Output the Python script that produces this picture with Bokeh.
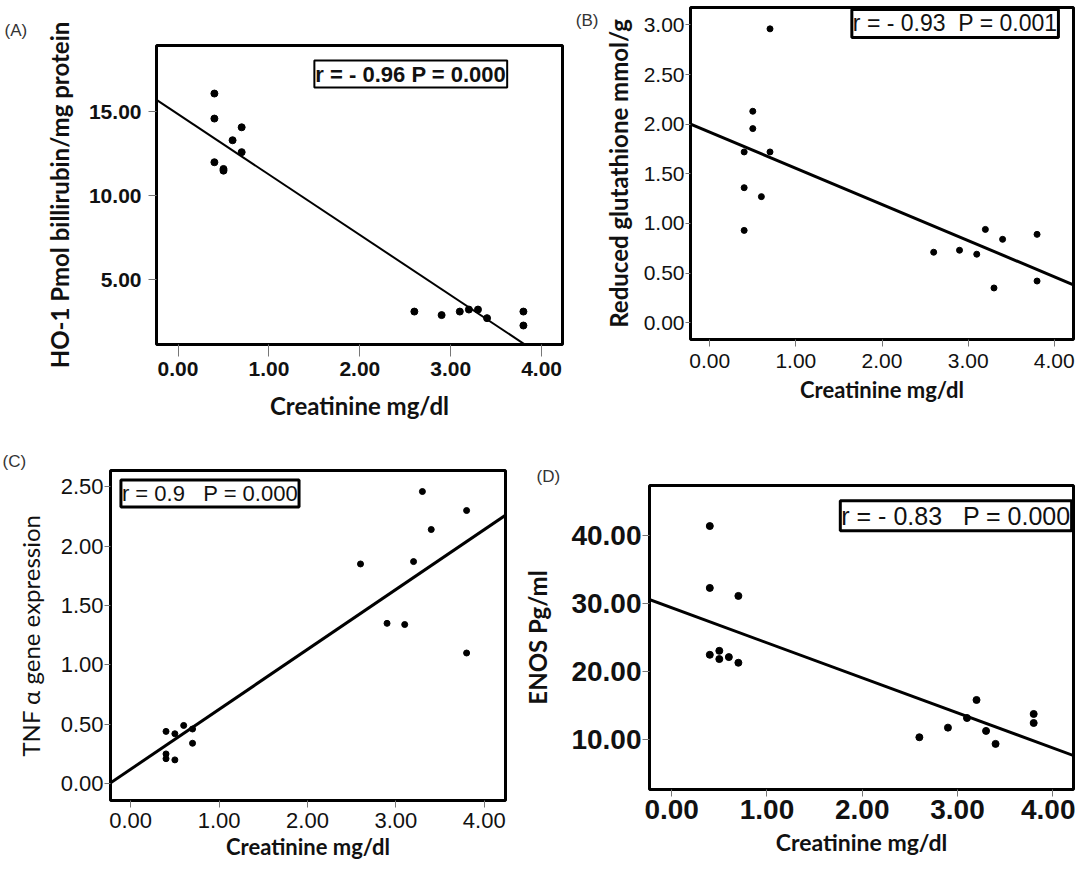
from bokeh.plotting import figure
from bokeh.models import Range1d, FixedTicker, NumeralTickFormatter, Label, Title, LinearAxis
from bokeh.layouts import column, row
from bokeh.embed import file_html
from bokeh.resources import INLINE

# ---------------- data ----------------
x_ticks = [0, 1, 2, 3, 4]
NB = "\u00a0"

# (A) HO-1
a_x = [0.4, 0.4, 0.4, 0.5, 0.5, 0.6, 0.7, 0.7, 2.6, 2.9, 3.1, 3.2, 3.3, 3.4, 3.8, 3.8]
a_y = [16.09, 14.6, 12.0, 11.6, 11.5, 13.31, 14.08, 12.6, 3.11, 2.9, 3.11, 3.23, 3.23, 2.72, 3.11, 2.28]
a_fit = [14.86, -3.593]          # intercept, slope
a_yticks = [5, 10, 15]
a_stat = "r = - 0.96 P = 0.000"

# (B) Reduced glutathione
b_x = [0.7, 0.5, 0.5, 0.4, 0.7, 0.4, 0.6, 0.4, 2.6, 2.9, 3.1, 3.2, 3.4, 3.3, 3.8, 3.8]
b_y = [2.96, 2.13, 1.955, 1.72, 1.72, 1.36, 1.27, 0.93, 0.71, 0.73, 0.69, 0.94, 0.84, 0.35, 0.89, 0.42]
b_fit = [1.919, -0.364]
b_yticks = [0, 0.5, 1.0, 1.5, 2.0, 2.5, 3.0]
b_stat = "r = - 0.93" + NB * 2 + "P = 0.001"

# (C) TNF alpha
c_x = [3.3, 3.8, 3.4, 2.6, 3.2, 2.9, 3.1, 3.8, 0.4, 0.6, 0.5, 0.7, 0.7, 0.4, 0.4, 0.5]
c_y = [2.46, 2.30, 2.14, 1.85, 1.87, 1.35, 1.34, 1.10, 0.44, 0.49, 0.42, 0.46, 0.34, 0.25, 0.21, 0.20]
c_fit = [0.121, 0.5045]
c_yticks = [0, 0.5, 1.0, 1.5, 2.0, 2.5]
c_stat = "r = 0.9" + NB * 3 + "P = 0.000"

# (D) ENOS
d_x = [0.4, 0.4, 0.7, 0.4, 0.5, 0.5, 0.6, 0.7, 2.6, 2.9, 3.1, 3.2, 3.3, 3.4, 3.8, 3.8]
d_y = [41.32, 32.26, 31.09, 22.47, 23.05, 21.84, 22.13, 21.30, 10.39, 11.80, 13.21, 15.85, 11.32, 9.42, 13.80, 12.48]
d_fit = [29.35, -5.13]
d_yticks = [10, 20, 30, 40]
d_stat = "r = - 0.83" + NB * 3 + "P = 0.000"

x_title = "Creatinine mg/dl"
a_ytitle = "HO-1 Pmol billirubin/mg protein"
b_ytitle = "Reduced glutathione mmol/g"
c_ytitle = "TNF \u03b1 gene expression"
d_ytitle = "ENOS Pg/ml"


def panel(w, h, bl, br, bt, bb, xr, yr, yticks, xs, ys, fit, ytitle,
          tick_font_size, tick_bold, xt_out, xt_stand, yt_out, yt_stand,
          xtitle_size, ytitle_size, xtitle_stand, ytitle_stand,
          dot_size, line_w, ytitle_bold=True):
    p = figure(width=w, height=h, output_backend="svg", toolbar_location=None,
               x_range=Range1d(*xr), y_range=Range1d(*yr),
               min_border_left=bl, min_border_right=br,
               min_border_top=bt, min_border_bottom=bb)
    p.xgrid.visible = False
    p.ygrid.visible = False
    p.outline_line_color = "black"
    p.outline_line_width = 3
    p.background_fill_color = "white"
    p.border_fill_color = "white"

    p.xaxis.ticker = FixedTicker(ticks=x_ticks)
    p.yaxis.ticker = FixedTicker(ticks=yticks)
    for ax in (p.xaxis, p.yaxis):
        ax.formatter = NumeralTickFormatter(format="0.00")
        ax.axis_line_color = None
        ax.minor_tick_line_color = None
        ax.major_tick_line_color = "#777777"
        ax.major_tick_line_width = 1
        ax.major_tick_in = 0
        ax.major_label_text_font = "Liberation Sans"
        ax.major_label_text_font_size = tick_font_size
        ax.major_label_text_font_style = "bold" if tick_bold else "normal"
        ax.major_label_text_color = "#111111"
        ax.axis_label_text_font = "Lato"
        ax.axis_label_text_color = "#111111"
    p.xaxis.major_tick_out = xt_out
    p.xaxis.major_label_standoff = xt_stand
    p.yaxis.major_tick_out = yt_out
    p.yaxis.major_label_standoff = yt_stand
    p.xaxis.axis_label = x_title
    p.yaxis.axis_label = ytitle
    p.xaxis.axis_label_text_font_size = xtitle_size
    p.yaxis.axis_label_text_font_size = ytitle_size
    p.xaxis.axis_label_text_font_style = "bold"
    p.yaxis.axis_label_text_font_style = "bold" if ytitle_bold else "normal"
    p.xaxis.axis_label_standoff = xtitle_stand
    p.yaxis.axis_label_standoff = ytitle_stand

    lx = [xr[0] - 1, xr[1] + 1]
    ly = [fit[0] + fit[1] * v for v in lx]
    p.line(lx, ly, line_color="black", line_width=line_w)
    p.scatter(xs, ys, size=dot_size, color="black", marker="circle")
    return p


def stat_box(p, x, y, text, size, bold, lw):
    p.add_layout(Label(x=x, y=y, text=text, text_font="Liberation Sans",
                       text_font_size=size,
                       text_font_style="bold" if bold else "normal",
                       text_align="left", text_baseline="top",
                       text_color="#111111",
                       border_line_color="black", border_line_width=lw,
                       background_fill_color="white", padding=1))


def tag_title(p, text, offset, standoff):
    p.add_layout(Title(text=text, align="left", offset=offset, standoff=standoff,
                       text_font="Liberation Sans", text_font_size="17px",
                       text_font_style="normal", text_color="#333333"), "above")


def tag_axis(p, text, at):
    # an outer left axis with one unmarked tick whose label is the panel tag
    ax = LinearAxis(ticker=FixedTicker(ticks=[at]),
                    major_label_overrides={at: text},
                    axis_line_color=None, major_tick_out=0, major_tick_in=0,
                    minor_tick_out=0, minor_tick_in=0,
                    major_tick_line_color=None, minor_tick_line_color=None,
                    major_label_standoff=2,
                    major_label_text_font="Liberation Sans",
                    major_label_text_font_size="17px",
                    major_label_text_color="#333333")
    p.add_layout(ax, "left")


pa = panel(572, 432, 156, 10, 45, 88, (-0.237, 4.23), (1.15, 18.95), a_yticks,
           a_x, a_y, a_fit, a_ytitle, "21px", True, 12, 5, 8, 7,
           "24px", "24px", 12, 12, 7, 2)
stat_box(pa, 1.5, 18.05, a_stat, "22px", True, 2)
tag_title(pa, "(A)", -152, 12)

pb = panel(503, 432, 113, 2, 7, 93, (-0.223, 4.223), (-0.169, 3.175), b_yticks,
           b_x, b_y, b_fit, b_ytitle, "21px", False, 7, 7, 5, 1,
           "22px", "24px", 5, 8, 6, 3)
stat_box(pb, 1.65, 3.155, b_stat, "23px", False, 3)
tag_axis(pb, "(B)", 3.04)

pc = panel(520, 433, 110, 15, 38, 65, (-0.228, 4.24), (-0.142, 2.637), c_yticks,
           c_x, c_y, c_fit, c_ytitle, "22px", False, 7, 5, 6, 1,
           "22px", "24px", 2, 13, 6, 3, ytitle_bold=False)
stat_box(pc, -0.11, 2.556, c_stat, "22px", False, 3)
tag_title(pc, "(C)", -108, 0)

pd_ = panel(555, 433, 125, 2, 53, 76, (-0.233, 4.218), (2.74, 47.26), d_yticks,
            d_x, d_y, d_fit, d_ytitle, "28px", True, 7, 3, 7, 1,
            "23px", "24px", 6, 16, 7, 3)
stat_box(pd_, 1.77, 45.02, d_stat, "25px", False, 3)
tag_title(pd_, "(D)", -113, 0)

layout = column(row(column(pa), column(pb)), row(column(pc), column(pd_)))

with open("out.html", "w") as f:
    f.write(file_html(layout, INLINE))
